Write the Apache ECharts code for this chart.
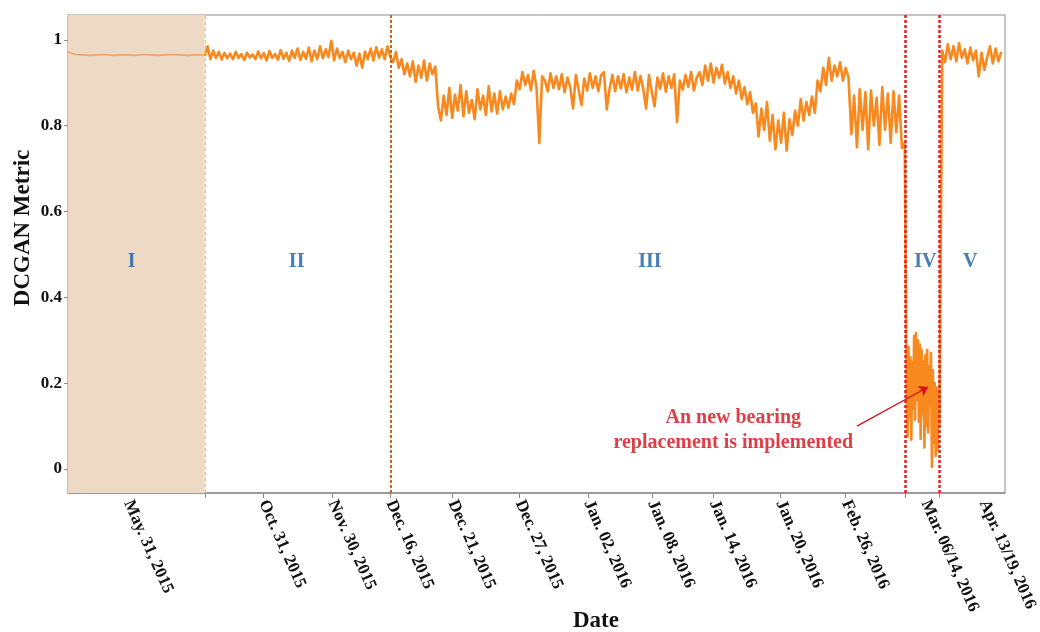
<!DOCTYPE html>
<html><head><meta charset="utf-8">
<script src="https://cdn.jsdelivr.net/npm/echarts@6/dist/echarts.min.js"></script>
<style>html,body{margin:0;padding:0;background:#fff}#c{width:1040px;height:632px}</style>
</head><body><div id="c"></div>
<script>
// time index (arbitrary units) for each phase: start and step
const regionIStart = 0, regionIStep = 8;
const regionI = [0.972,0.966,0.965,0.964,0.965,0.966,0.964,0.965,0.965,0.964,0.966,0.965,0.964,0.965,0.966,0.965,0.964,0.965,0.965];

const regionIIStart = 146, regionIIStep = 3;
const regionII = [
0.962,0.985,0.955,0.975,0.958,0.972,0.954,0.970,0.957,0.968,
0.955,0.972,0.958,0.967,0.953,0.970,0.959,0.966,0.955,0.973,
0.957,0.969,0.952,0.974,0.958,0.967,0.954,0.976,0.956,0.970,
0.951,0.975,0.958,0.980,0.953,0.972,0.956,0.982,0.950,0.975,
0.955,0.985,0.957,0.978,0.960,0.998,0.952,0.980,0.958,0.972,
0.948,0.975,0.955,0.970,0.940,0.968,0.935,0.973,0.955,0.980,
0.952,0.983,0.958,0.978,0.955,0.985,0.960];

const regionIIIStart = 347, regionIIIStep = 3;
const regionIII = [
0.948,0.972,0.935,0.955,0.920,0.945,0.915,0.950,0.902,
0.940,0.912,0.952,0.905,0.945,0.920,0.938,0.845,0.812,0.870,
0.825,0.888,0.818,0.872,0.835,0.895,0.822,0.880,0.830,0.860,
0.815,0.885,0.838,0.870,0.825,0.892,0.833,0.875,0.828,0.880,
0.838,0.868,0.842,0.875,0.850,0.905,0.885,0.925,0.895,0.918,
0.882,0.928,0.890,0.760,0.915,0.905,0.880,0.922,0.888,0.915,
0.885,0.920,0.878,0.912,0.890,0.840,0.918,0.883,0.848,0.910,
0.882,0.922,0.888,0.915,0.880,0.918,0.925,0.838,0.886,0.918,
0.880,0.915,0.887,0.920,0.878,0.912,0.884,0.925,0.882,0.916,
0.885,0.840,0.918,0.880,0.845,0.912,0.886,0.922,0.879,0.915,
0.888,0.920,0.808,0.905,0.884,0.918,0.890,0.925,0.882,0.912,
0.925,0.895,0.940,0.905,0.945,0.900,0.935,0.912,0.942,0.898,
0.925,0.888,0.915,0.875,0.905,0.862,0.890,0.850,0.878,0.830,
0.852,0.775,0.840,0.790,0.855,0.765,0.825,0.745,0.812,0.760,
0.830,0.742,0.815,0.778,0.835,0.800,0.862,0.812,0.855,0.825,
0.868,0.830,0.905,0.880,0.935,0.895,0.958,0.905,0.940,0.915,
0.948,0.905,0.935,0.912,0.780,0.870,0.750,0.885,0.790,0.878,
0.745,0.882,0.800,0.865,0.755,0.890,0.790,0.875,0.760,0.880,
0.785,0.870,0.748,0.760];

const regionIVStart = 895, regionIVStep = 1;
const regionIV = [0.180,0.075,0.285,0.120,0.260,0.068,0.250,0.140,0.310,0.115,0.317,0.160,0.300,0.110,0.290,0.070,0.277,0.130,0.250,0.050,0.265,0.100,0.277,0.085,0.240,0.150,0.270,0.005,0.230,0.060,0.200,0.030,0.190,0.045,0.180,0.100];

const regionVStart = 933, regionVStep = 3;
const regionV = [0.975,0.948,0.990,0.955,0.985,0.950,0.992,0.958,0.978,0.945,0.982,0.952,0.975,0.915,0.970,0.930,0.960,0.985,0.945,0.980,0.950,0.972];

// x axis ticks and labels (time index)
const xTickValues = [146,208,282,344,410,482,555,623,689,760,830,894,930];
const xLabelValues = [64,208,282,344,410,482,555,623,689,760,830,915,977];
const xLabelText = ['May. 31, 2015','Oct. 31, 2015','Nov. 30, 2015','Dec. 16, 2015','Dec. 21, 2015','Dec. 27, 2015','Jan. 02, 2016','Jan. 08, 2016','Jan. 14, 2016','Jan. 20, 2016','Feb. 26, 2016','Mar. 06/14, 2016','Apr. 13/19, 2016'];
const yTickValues = [0,0.2,0.4,0.6,0.8,1];

// phase boundaries (time index)
const phaseIEnd = 146, phaseIIEnd = 344, phaseIIIEnd = 894, phaseIVEnd = 930;
// phase labels
const phaseNames = ['I','II','III','IV','V'];
const phaseNameX = [68,244,621,915,963];
const phaseNameY = [0.483,0.483,0.483,0.483,0.483];
// annotation
const noteText = 'An new bearing\nreplacement is implemented';
const notePoint = [710, 0.089];
const arrowFrom = [842, 0.100];
const arrowTo = [918, 0.191];

function seg(arr, start, step){ return arr.map((v,i)=>[start+i*step, v]); }
const mainData = [].concat(
  seg(regionII, regionIIStart, regionIIStep),
  seg(regionIII, regionIIIStart, regionIIIStep),
  seg(regionIV, regionIVStart, regionIVStep),
  seg(regionV, regionVStart, regionVStep));
const phaseIData = seg(regionI, regionIStart, regionIStep);

const serif = '"Liberation Serif", "Times New Roman", serif';
const chart = echarts.init(document.getElementById('c'));
chart.setOption({
  animation: false,
  backgroundColor: '#fff',
  grid: {left: 68, right: 35, top: 15, bottom: 139, show: true, borderColor: '#8c8c8c', borderWidth: 1,
    containLabel: false, outerBoundsMode: 'none'},
  xAxis: {
    type: 'value', min: 0, max: 1000,
    splitLine: {show: false},
    axisLine: {onZero: false, lineStyle: {color: '#8c8c8c', width: 1.5}},
    axisTick: {show: true, customValues: xTickValues, length: 5, lineStyle: {color: '#8c8c8c'}},
    axisLabel: {customValues: xLabelValues, rotate: -66, margin: 8,
      formatter: v => xLabelText[xLabelValues.indexOf(v)] || '',
      fontFamily: serif, fontWeight: 'bold', fontSize: 17, color: '#111'}
  },
  yAxis: {
    type: 'value', min: -0.056, max: 1.058,
    splitLine: {show: false},
    axisLine: {show: true, onZero: false, lineStyle: {color: '#8c8c8c', width: 1.2}},
    axisTick: {show: true, customValues: yTickValues, length: 4, lineStyle: {color: '#8c8c8c'}},
    axisLabel: {customValues: yTickValues, margin: 6,
      formatter: v => (Math.abs(v) < 1e-9 ? '0' : Math.abs(v - 1) < 1e-9 ? '1' : v.toFixed(1)),
      fontFamily: serif, fontWeight: 'bold', fontSize: 17, color: '#111'}
  },
  graphic: [
    {type: 'text', x: 23, y: 228, rotation: Math.PI/2,
      style: {text: 'DCGAN Metric', font: 'bold 23px ' + serif, fill: '#111', align: 'center', verticalAlign: 'middle'}},
    {type: 'text', x: 596, y: 621,
      style: {text: 'Date', font: 'bold 23px ' + serif, fill: '#111', align: 'center', verticalAlign: 'middle'}}
  ],
  series: [
    {type: 'line', data: [], z: 0, silent: true,
      markArea: {silent: true, itemStyle: {color: '#EED9C5'}, data: [[{xAxis: 0}, {xAxis: phaseIEnd}]]}},
    {type: 'line', data: phaseIData, showSymbol: false, z: 3, lineStyle: {color: '#F2A466', width: 1.6}},
    {type: 'line', data: mainData, showSymbol: false, z: 3, lineStyle: {color: '#F7891E', width: 2.6, join: 'round'}},
    {type: 'line', data: [], z: 4, silent: true,
      markLine: {silent: true, symbol: ['none','none'], label: {show: false},
        data: [
          {xAxis: phaseIEnd, lineStyle: {color: '#F3C14C', width: 1.2, type: [3,3]}},
          {xAxis: phaseIIEnd, lineStyle: {color: '#C8641E', width: 2, type: [3,2]}},
          {xAxis: phaseIIIEnd, lineStyle: {color: '#E1201F', width: 2.5, type: [3,2]}},
          {xAxis: phaseIVEnd, lineStyle: {color: '#E1201F', width: 2.5, type: [3,2]}}
        ]}},
    {type: 'scatter', symbolSize: 0, z: 5, silent: true,
      data: phaseNames.map((n,i)=>[phaseNameX[i], phaseNameY[i], n]),
      label: {show: true, position: 'inside', formatter: p => p.data[2],
        fontFamily: serif, fontWeight: 'bold', fontSize: 20, color: '#165CA6'}},
    {type: 'scatter', symbolSize: 0, z: 5, silent: true,
      data: [[notePoint[0], notePoint[1], noteText]],
      label: {show: true, position: 'inside', formatter: p => p.data[2], align: 'center',
        lineHeight: 25, fontFamily: serif, fontWeight: 'bold', fontSize: 20, color: '#D80E18'},
      markLine: {silent: true, symbol: ['none','arrow'], symbolSize: 9, label: {show: false},
        lineStyle: {color: '#D80E18', width: 1.3, type: 'solid'},
        data: [[{coord: arrowFrom}, {coord: arrowTo}]]}}
  ]
});
</script></body></html>
